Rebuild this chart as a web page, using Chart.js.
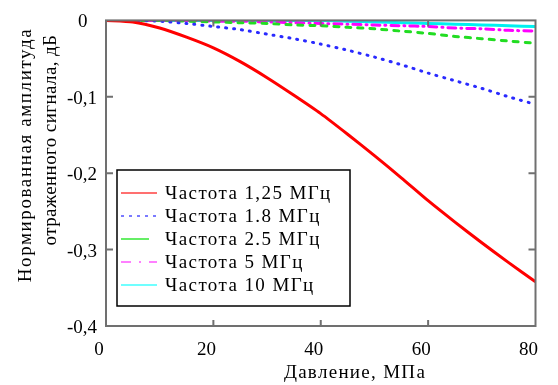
<!DOCTYPE html>
<html>
<head>
<meta charset="utf-8">
<script src="https://cdn.jsdelivr.net/npm/chart.js@4"></script>
<style>
  html, body { margin: 0; padding: 0; background: #fff; }
  #wrap { width: 558px; height: 385px; position: relative; }
</style>
</head>
<body>
<div id="wrap"><canvas id="chart"></canvas></div>
<script>
// pressure, MPa
const pressure = [0, 5, 10, 15, 20, 25, 30, 35, 40, 45, 50, 55, 60, 65, 70, 75, 80];
const freq125 = [0, -0.002, -0.01, -0.022, -0.036, -0.054, -0.075, -0.098, -0.122, -0.149, -0.177, -0.206, -0.236, -0.264, -0.291, -0.317, -0.342];
const freq18 = [0, 0, -0.001, -0.004, -0.008, -0.012, -0.018, -0.024, -0.031, -0.039, -0.048, -0.058, -0.069, -0.079, -0.089, -0.1, -0.11];
const freq25 = [0, 0, 0, -0.001, -0.002, -0.003, -0.004, -0.006, -0.007, -0.009, -0.011, -0.014, -0.017, -0.021, -0.024, -0.027, -0.030];
const freq5 = [0, 0, 0, 0, -0.001, -0.001, -0.002, -0.003, -0.004, -0.005, -0.006, -0.007, -0.008, -0.01, -0.011, -0.013, -0.014];
const freq10 = [0, 0, 0, 0, 0, 0, 0, 0, 0, -0.001, -0.002, -0.003, -0.004, -0.005, -0.006, -0.007, -0.008];
const seriesNames = ['Частота 1,25 МГц', 'Частота 1.8 МГц', 'Частота 2.5 МГц', 'Частота 5 МГц', 'Частота 10 МГц'];
const xTicks = [0, 20, 40, 60, 80];
const yTicks = [0, -0.1, -0.2, -0.3, -0.4];
const xTitle = 'Давление, МПа';
const yTitle = ['Нормированная амплитуда', 'отраженного сигнала, дБ'];

const FONT = '"Liberation Serif", "Times New Roman", serif';
const axisGray = '#707070';

const styles = [
  { color: '#ff0000', legend: '#ff7070', width: 3, dash: [] },
  { color: '#2a2aff', legend: '#7a7aff', width: 3, dash: [1, 7] },
  { color: '#22dd22', legend: '#66ee66', width: 3, dash: [5, 7] },
  { color: '#ff00ff', legend: '#ff80ff', width: 3, dash: [8, 5, 1, 5] },
  { color: '#00f0f0', legend: '#70ffff', width: 3, dash: [] }
];
const allSeries = [freq125, freq18, freq25, freq5, freq10];

const datasets = allSeries.map((vals, i) => ({
  label: seriesNames[i],
  data: pressure.map((p, j) => ({ x: p, y: vals[j] })),
  borderColor: styles[i].color,
  borderWidth: styles[i].width,
  borderDash: styles[i].dash,
  borderCapStyle: styles[i].dash.length ? 'round' : 'butt',
  pointRadius: 0,
  tension: 0.2,
  order: i
}));

function spacedText(ctx, text, x, y, spacing) {
  ctx.letterSpacing = spacing + 'px';
  ctx.fillText(text, x, y);
  ctx.letterSpacing = '0px';
}

const frame = {
  id: 'frame',
  afterDraw(chart) {
    const { ctx, chartArea: a, scales } = chart;
    ctx.save();
    // box
    ctx.strokeStyle = axisGray;
    ctx.lineWidth = 2;
    ctx.strokeRect(a.left, a.top, a.right - a.left, a.bottom - a.top);
    // inward ticks
    ctx.beginPath();
    for (const v of xTicks.slice(1, -1)) {
      const px = scales.x.getPixelForValue(v);
      ctx.moveTo(px, a.bottom); ctx.lineTo(px, a.bottom - 6);
      ctx.moveTo(px, a.top); ctx.lineTo(px, a.top + 6);
    }
    for (const v of yTicks.slice(1, -1)) {
      const py = scales.y.getPixelForValue(v);
      ctx.moveTo(a.left, py); ctx.lineTo(a.left + 7, py);
      ctx.moveTo(a.right, py); ctx.lineTo(a.right - 7, py);
    }
    ctx.stroke();

    // legend
    const lx = 117, ly = 170, lw = 233, lh = 136;
    ctx.fillStyle = '#fff';
    ctx.fillRect(lx, ly, lw, lh);
    ctx.strokeStyle = '#000';
    ctx.lineWidth = 1.5;
    ctx.strokeRect(lx, ly, lw, lh);
    ctx.font = '19px ' + FONT;
    ctx.textBaseline = 'middle';
    ctx.fillStyle = '#000';
    seriesNames.forEach((name, i) => {
      const y = ly + 23 + i * 23;
      ctx.strokeStyle = styles[i].legend;
      ctx.lineWidth = 2;
      ctx.setLineDash(styles[i].dash.length ? [3, 5] : []);
      if (i === 3) ctx.setLineDash([10, 8, 2, 8]);
      if (i === 2) ctx.setLineDash([]);
      ctx.beginPath();
      ctx.moveTo(lx + 4, y); ctx.lineTo(lx + (i === 2 ? 32 : 40), y);
      ctx.stroke();
      ctx.setLineDash([]);
      spacedText(ctx, name, lx + 48, y + 1, 1.4);
    });

    // axis titles
    ctx.font = '19px ' + FONT;
    ctx.textAlign = 'center';
    ctx.textBaseline = 'middle';
    spacedText(ctx, xTitle, 355, 373, 1.3);
    ctx.save();
    ctx.translate(26, 155);
    ctx.rotate(-Math.PI / 2);
    spacedText(ctx, yTitle[0], 0, 0, 1.6);
    ctx.restore();
    ctx.save();
    ctx.translate(51, 140);
    ctx.rotate(-Math.PI / 2);
    spacedText(ctx, yTitle[1], 0, 0, 0.4);
    ctx.restore();
    ctx.restore();
  }
};

new Chart(document.getElementById('chart'), {
  type: 'line',
  data: { datasets },
  options: {
    responsive: true,
    maintainAspectRatio: false,
    animation: false,
    layout: { padding: { top: 11, right: 13, left: 0, bottom: 0 } },
    plugins: { legend: { display: false }, tooltip: { enabled: false } },
    scales: {
      x: {
        type: 'linear',
        min: 0, max: 80,
        afterFit(s) { s.height = 59; },
        afterBuildTicks(s) { s.ticks = xTicks.map(v => ({ value: v })); },
        grid: { display: false, drawTicks: false },
        border: { display: false },
        ticks: { color: '#000', font: { family: FONT, size: 19 }, padding: 13, labelOffset: -7, maxRotation: 0 }
      },
      y: {
        type: 'linear',
        min: -0.4, max: 0,
        afterFit(s) { s.width = 106; },
        afterBuildTicks(s) { s.ticks = yTicks.map(v => ({ value: v })); },
        grid: { display: false, drawTicks: false },
        border: { display: false },
        ticks: {
          color: '#000', font: { family: FONT, size: 19 }, padding: 9, labelOffset: 2,
          callback: v => v === 0 ? '0\u2002' : v.toFixed(1).replace('.', ',')
        }
      }
    }
  },
  plugins: [frame]
});
</script>
</body>
</html>
